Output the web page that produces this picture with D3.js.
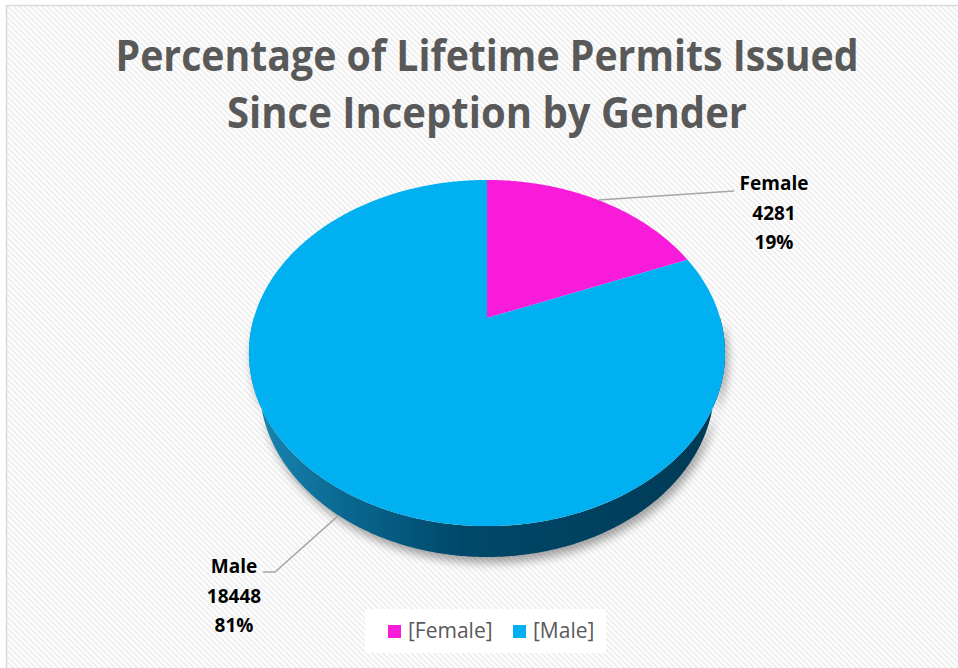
<html>
<script src="https://d3js.org/d3.v7.min.js"></script>
<style>
 body { margin:0; background:#fff; }
 text { font-family: "Open Sans", "DejaVu Sans", sans-serif; }
</style>
<body>
<svg width=958 height=668></svg>
<script>
	// chart data
	var categories = ["Female", "Male"];
	var counts = [4281, 18448];
	var percents = ["19%", "81%"];
	var titleLines = ["Percentage of Lifetime Permits Issued", "Since Inception by Gender"];
	var legendLabels = ["[Female]", "[Male]"];

	var colors = ["#f81bd9", "#00b0f0"];

	var svg = d3.select("svg");
	var defs = svg.append("defs");

	// striped background
	var pat = defs.append("pattern")
		.attr("id", "stripes")
		.attr("patternUnits", "userSpaceOnUse")
		.attr("width", 4).attr("height", 4)
		.attr("patternTransform", "rotate(-45)");
	pat.append("rect").attr("width", 4).attr("height", 4).attr("fill", "#ffffff");
	pat.append("rect").attr("width", 2).attr("height", 4).attr("fill", "#efefef");

	var grad = defs.append("linearGradient")
		.attr("id", "wall")
		.attr("gradientUnits", "userSpaceOnUse")
		.attr("x1", 250).attr("x2", 725).attr("y1", 0).attr("y2", 0);
	grad.append("stop").attr("offset", 0).attr("stop-color", "#1a88b3");
	grad.append("stop").attr("offset", 0.2).attr("stop-color", "#0a6890");
	grad.append("stop").attr("offset", 0.45).attr("stop-color", "#00486a");
	grad.append("stop").attr("offset", 1).attr("stop-color", "#003a55");

	var shadow = defs.append("filter").attr("id", "shadow")
		.attr("x", "-10%").attr("y", "-10%").attr("width", "130%").attr("height", "140%");
	shadow.append("feGaussianBlur").attr("stdDeviation", 5);

	svg.append("rect")
		.attr("x", 6.5).attr("y", 5.5)
		.attr("width", 1000).attr("height", 1000)
		.attr("fill", "url(#stripes)")
		.attr("stroke", "#d9d9d9")
		.attr("stroke-width", 1.5);

	// 3d projection of the pie disc
	var cx = 487, cy = 318, F = 809, D = 3.47, A = 45.4 * Math.PI / 180, thick = 0.215;
	function proj(theta, r, bottom) {
		var u = r * Math.sin(theta), v = r * Math.cos(theta);
		var Y = v * Math.sin(A), Z = D + v * Math.cos(A);
		if (bottom) { Y -= thick * Math.cos(A); Z += thick * Math.sin(A); }
		return [cx + F * u / Z, cy - F * Y / Z];
	}
	function arcPts(a0, a1, bottom) {
		var n = Math.max(2, Math.ceil(Math.abs(a1 - a0) / 0.01));
		return d3.range(n + 1).map(function(i) { return proj(a0 + (a1 - a0) * i / n, 1, bottom); });
	}
	var line = d3.line();

	var pie = d3.pie().sort(null)(counts);

	// side wall (front half)
	var wallPts = arcPts(Math.PI / 2, 3 * Math.PI / 2, false)
		.concat(arcPts(3 * Math.PI / 2, Math.PI / 2, true));
	svg.append("path")
		.attr("d", line(wallPts) + "Z")
		.attr("fill", "#000")
		.attr("opacity", 0.35)
		.attr("transform", "translate(3,6)")
		.attr("filter", "url(#shadow)");
	svg.append("path")
		.attr("d", line(wallPts) + "Z")
		.attr("fill", "url(#wall)");

	// top face
	svg.selectAll(".slice")
		.data(pie)
		.enter().append("path")
		.attr("class", "slice")
		.attr("d", function(d) {
			return line([proj(0, 0, false)].concat(arcPts(d.startAngle, d.endAngle, false))) + "Z";
		})
		.attr("fill", function(d, i) { return colors[i]; });

	// leader lines and labels
	var fMid = (pie[0].startAngle + pie[0].endAngle) / 2;
	var mMid = (pie[1].startAngle + pie[1].endAngle) / 2;
	var fa = proj(fMid, 1, false), ma = proj(mMid, 1, true);
	svg.append("path")
		.attr("d", line([fa, [734, 191]]))
		.attr("fill", "none").attr("stroke", "#a6a6a6").attr("stroke-width", 1.5);
	svg.append("path")
		.attr("d", line([ma, [275, 572], [263, 572]]))
		.attr("fill", "none").attr("stroke", "#a6a6a6").attr("stroke-width", 1.5);

	var labelPos = [[774, 190], [234, 573]];
	categories.forEach(function(c, i) {
		var t = svg.append("text")
			.attr("text-anchor", "middle")
			.attr("font-weight", "bold")
			.attr("font-size", 19)
			.attr("fill", "#000");
		[c, String(counts[i]), percents[i]].forEach(function(s, j) {
			t.append("tspan").attr("x", labelPos[i][0]).attr("y", labelPos[i][1] + j * 29.5).text(s);
		});
	});

	// legend
	svg.append("rect")
		.attr("x", 365).attr("y", 609).attr("width", 241).attr("height", 44)
		.attr("fill", "#ffffff");
	var legX = [388, 513];
	legendLabels.forEach(function(l, i) {
		svg.append("rect")
			.attr("x", legX[i]).attr("y", 625).attr("width", 13).attr("height", 13)
			.attr("fill", colors[i]);
		svg.append("text")
			.attr("x", legX[i] + 20).attr("y", 638)
			.attr("font-size", 21)
			.attr("fill", "#595959")
			.text(l);
	});

	// title
	var titleW = [743, 520];
	titleLines.forEach(function(s, i) {
		svg.append("text")
			.attr("x", 487).attr("y", 71 + i * 57)
			.attr("text-anchor", "middle")
			.attr("font-size", 43)
			.attr("font-weight", "bold")
			.attr("fill", "#595959")
			.attr("textLength", titleW[i])
			.attr("lengthAdjust", "spacingAndGlyphs")
			.text(s);
	});
</script>
</body>
</html>
